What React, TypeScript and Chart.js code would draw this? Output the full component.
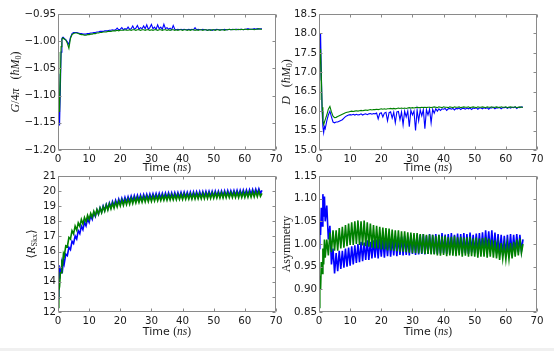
import React, { useEffect, useRef } from 'react';
import { Chart, registerables } from 'chart.js';

Chart.register(...registerables);

// ---------------- data ----------------
const TIME = [
  0, 0.25, 0.5, 0.75, 1, 1.25, 1.5, 1.75, 2,
  2.5, 3, 3.5, 4, 4.5, 5, 5.5, 6, 6.5, 7,
  7.5, 8, 8.5, 9, 9.5, 10, 10.5, 11, 11.5, 12,
  12.5, 13, 13.5, 14, 14.5, 15, 15.5, 16, 16.5, 17,
  17.5, 18, 18.5, 19, 19.5, 20, 20.5, 21, 21.5, 22,
  22.5, 23, 23.5, 24, 24.5, 25, 25.5, 26, 26.5, 27,
  27.5, 28, 28.5, 29, 29.5, 30, 30.5, 31, 31.5, 32,
  32.5, 33, 33.5, 34, 34.5, 35, 35.5, 36, 36.5, 37,
  37.5, 38, 38.5, 39, 39.5, 40, 40.5, 41, 41.5, 42,
  42.5, 43, 43.5, 44, 44.5, 45, 45.5, 46, 46.5, 47,
  47.5, 48, 48.5, 49, 49.5, 50, 50.5, 51, 51.5, 52,
  52.5, 53, 53.5, 54, 54.5, 55, 55.5, 56, 56.5, 57,
  57.5, 58, 58.5, 59, 59.5, 60, 60.5, 61, 61.5, 62,
  62.5, 63, 63.5, 64, 64.5, 65, 65.5,
];

// G / 4pi (top left)
const G_BLUE = [
  -1.06, -1.14, -1.155, -1.09, -1.02, -0.995, -0.993, -0.993, -0.995,
  -0.997, -1.001, -1.006, -0.993, -0.986, -0.984, -0.984, -0.984, -0.985, -0.986,
  -0.986, -0.987, -0.987, -0.987, -0.986, -0.986, -0.985, -0.985, -0.984, -0.984,
  -0.983, -0.983, -0.982, -0.982, -0.982, -0.981, -0.981, -0.981, -0.980, -0.980,
  -0.979, -0.980, -0.979, -0.976, -0.979, -0.978, -0.975, -0.979, -0.977, -0.978,
  -0.974, -0.978, -0.977, -0.972, -0.978, -0.976, -0.971, -0.978, -0.975, -0.977,
  -0.972, -0.977, -0.970, -0.978, -0.975, -0.969, -0.977, -0.974, -0.978, -0.970,
  -0.977, -0.974, -0.978, -0.969, -0.977, -0.975, -0.978, -0.976, -0.979, -0.971,
  -0.978, -0.979, -0.978, -0.979, -0.978, -0.979, -0.978, -0.979, -0.979, -0.978,
  -0.979, -0.978, -0.979, -0.975, -0.979, -0.978, -0.979, -0.979, -0.978, -0.979,
  -0.979, -0.980, -0.979, -0.979, -0.980, -0.979, -0.979, -0.978, -0.979, -0.979,
  -0.979, -0.979, -0.978, -0.979, -0.979, -0.978, -0.979, -0.978, -0.979, -0.978,
  -0.978, -0.979, -0.978, -0.978, -0.979, -0.978, -0.978, -0.977, -0.978, -0.978,
  -0.978, -0.977, -0.978, -0.977, -0.978, -0.977, -0.977,
];
const G_GREEN = [
  -1.02, -1.10, -1.13, -1.07, -1.01, -0.997, -0.994, -0.995, -0.996,
  -0.998, -1.004, -1.013, -0.995, -0.988, -0.986, -0.985, -0.985, -0.986, -0.987,
  -0.988, -0.988, -0.989, -0.989, -0.988, -0.988, -0.987, -0.987, -0.986, -0.986,
  -0.985, -0.985, -0.984, -0.984, -0.983, -0.983, -0.983, -0.982, -0.982, -0.982,
  -0.981, -0.981, -0.981, -0.980, -0.981, -0.980, -0.980, -0.980, -0.979, -0.980,
  -0.980, -0.979, -0.980, -0.979, -0.979, -0.980, -0.979, -0.979, -0.980, -0.979,
  -0.979, -0.980, -0.979, -0.979, -0.980, -0.979, -0.980, -0.979, -0.979, -0.980,
  -0.979, -0.979, -0.980, -0.979, -0.979, -0.980, -0.979, -0.980, -0.979, -0.979,
  -0.980, -0.979, -0.980, -0.979, -0.979, -0.980, -0.979, -0.979, -0.980, -0.979,
  -0.980, -0.979, -0.979, -0.980, -0.979, -0.980, -0.979, -0.979, -0.980, -0.979,
  -0.979, -0.980, -0.979, -0.980, -0.979, -0.979, -0.980, -0.979, -0.979, -0.980,
  -0.979, -0.979, -0.980, -0.979, -0.979, -0.978, -0.979, -0.979, -0.978, -0.979,
  -0.979, -0.978, -0.979, -0.978, -0.979, -0.978, -0.978, -0.979, -0.978, -0.978,
  -0.978, -0.979, -0.978, -0.978, -0.977, -0.978, -0.978,
];

// D (top right)
const D_BLUE = [
  16.8, 17.6, 18.0, 17.0, 16.0, 15.6, 15.45, 15.6, 15.55,
  15.75, 15.9, 16.0, 15.85, 15.72, 15.7, 15.72, 15.72, 15.74, 15.76,
  15.78, 15.82, 15.86, 15.88, 15.9, 15.91, 15.9, 15.92, 15.9, 15.92,
  15.9, 15.91, 15.93, 15.9, 15.92, 15.93, 15.91, 15.93, 15.94, 15.92,
  15.94, 15.93, 15.95, 15.8, 15.94, 15.96, 15.85, 15.95, 15.97, 15.75,
  15.96, 15.98, 15.82, 15.97, 15.7, 15.98, 15.99, 15.78, 15.98, 15.65,
  16.0, 15.85, 16.0, 15.6, 16.02, 15.9, 16.0, 15.5, 16.03, 15.75,
  16.03, 15.88, 16.04, 15.55, 16.04, 15.9, 16.05, 15.7, 16.05, 15.95,
  16.06, 16.0, 16.06, 16.02, 16.06, 16.05, 16.07, 16.02, 16.06, 16.07,
  16.05, 16.07, 16.03, 16.07, 16.06, 16.08, 16.04, 16.07, 16.07, 16.05,
  16.08, 16.06, 16.08, 16.04, 16.08, 16.07, 16.09, 16.05, 16.08, 16.08,
  16.06, 16.09, 16.07, 16.09, 16.05, 16.09, 16.08, 16.1, 16.06, 16.09,
  16.08, 16.1, 16.06, 16.09, 16.09, 16.1, 16.07, 16.1, 16.08, 16.1,
  16.09, 16.11, 16.07, 16.1, 16.09, 16.11, 16.1,
];
const D_GREEN = [
  16.3, 17.2, 17.6, 16.9, 16.1, 15.75, 15.65, 15.72, 15.78,
  15.9, 16.05, 16.12, 15.98, 15.87, 15.83, 15.84, 15.86, 15.88, 15.9,
  15.92, 15.94, 15.96, 15.97, 15.98, 15.99, 16.0, 15.99, 16.0, 16.01,
  16.0, 16.01, 16.02, 16.01, 16.02, 16.03, 16.02, 16.03, 16.04, 16.03,
  16.04, 16.04, 16.05, 16.04, 16.05, 16.06, 16.05, 16.06, 16.05, 16.06,
  16.06, 16.07, 16.06, 16.07, 16.06, 16.07, 16.08, 16.07, 16.08, 16.07,
  16.08, 16.07, 16.08, 16.09, 16.08, 16.09, 16.08, 16.09, 16.1, 16.09,
  16.09, 16.1, 16.09, 16.1, 16.09, 16.1, 16.1, 16.09, 16.1, 16.11,
  16.1, 16.09, 16.11, 16.1, 16.09, 16.11, 16.1, 16.1, 16.09, 16.11,
  16.1, 16.09, 16.11, 16.1, 16.1, 16.11, 16.09, 16.1, 16.11, 16.1,
  16.1, 16.11, 16.09, 16.1, 16.11, 16.1, 16.09, 16.11, 16.1, 16.1,
  16.11, 16.1, 16.09, 16.11, 16.1, 16.1, 16.11, 16.09, 16.1, 16.11,
  16.1, 16.09, 16.11, 16.1, 16.1, 16.11, 16.09, 16.1, 16.11, 16.1,
  16.1, 16.11, 16.09, 16.1, 16.11, 16.1, 16.1,
];

// <R_Skx> (bottom left)
const R_BLUE = [
  12.9, 15.1, 14.2, 14.8, 14.6, 15.15, 14.9, 15.45, 15.2,
  15.83, 15.73, 16.28, 16.13, 16.68, 16.53, 17.03, 16.83, 17.38, 17.18,
  17.68, 17.45, 17.93, 17.7, 18.18, 17.93, 18.38, 18.13, 18.58, 18.33,
  18.75, 18.48, 18.89, 18.61, 19.02, 18.73, 19.12, 18.83, 19.22, 18.93,
  19.31, 19.01, 19.39, 19.09, 19.47, 19.16, 19.53, 19.22, 19.59, 19.27,
  19.63, 19.31, 19.67, 19.35, 19.71, 19.38, 19.73, 19.4, 19.75, 19.42,
  19.77, 19.44, 19.79, 19.46, 19.81, 19.48, 19.83, 19.49, 19.84, 19.5,
  19.85, 19.51, 19.86, 19.53, 19.88, 19.54, 19.89, 19.55, 19.89, 19.55,
  19.9, 19.56, 19.91, 19.57, 19.92, 19.58, 19.93, 19.59, 19.93, 19.59,
  19.94, 19.6, 19.95, 19.61, 19.96, 19.62, 19.97, 19.62, 19.97, 19.63,
  19.98, 19.64, 19.99, 19.65, 19.99, 19.65, 20.0, 19.66, 20.0, 19.67,
  20.01, 19.67, 20.02, 19.68, 20.03, 19.69, 20.03, 19.7, 20.04, 19.71,
  20.05, 19.71, 20.06, 19.72, 20.07, 19.74, 20.08, 19.75, 20.09, 19.77,
  20.11, 19.8, 20.13, 19.83, 20.15, 19.85, 20.05,
];
const R_GREEN = [
  12.3, 13.4, 13.7, 14.6, 14.6, 15.3, 15.2, 15.85, 15.7,
  16.38, 16.32, 16.93, 16.82, 17.38, 17.17, 17.68, 17.42, 17.9, 17.67,
  18.13, 17.83, 18.25, 17.97, 18.4, 18.12, 18.53, 18.26, 18.67, 18.37,
  18.78, 18.47, 18.88, 18.57, 18.97, 18.67, 19.08, 18.75, 19.15, 18.82,
  19.2, 18.87, 19.27, 18.95, 19.34, 19.02, 19.4, 19.06, 19.43, 19.1,
  19.47, 19.13, 19.52, 19.17, 19.55, 19.22, 19.58, 19.25, 19.6, 19.26,
  19.62, 19.28, 19.65, 19.3, 19.66, 19.32, 19.68, 19.35, 19.69, 19.36,
  19.7, 19.37, 19.71, 19.39, 19.73, 19.4, 19.74, 19.41, 19.75, 19.42,
  19.76, 19.43, 19.77, 19.45, 19.78, 19.45, 19.8, 19.46, 19.79, 19.47,
  19.81, 19.47, 19.82, 19.48, 19.83, 19.49, 19.83, 19.5, 19.84, 19.5,
  19.85, 19.51, 19.86, 19.52, 19.87, 19.53, 19.87, 19.54, 19.88, 19.55,
  19.89, 19.55, 19.9, 19.56, 19.9, 19.57, 19.91, 19.57, 19.91, 19.58,
  19.91, 19.57, 19.92, 19.58, 19.93, 19.58, 19.93, 19.59, 19.94, 19.6,
  19.95, 19.61, 19.97, 19.63, 19.99, 19.65, 19.85,
];

// Asymmetry (bottom right)
const A_BLUE = [
  0.99, 1.05, 1.02, 1.08, 1.04, 1.11, 1.06, 1.105, 1.05,
  1.085, 1.01, 1.04, 0.955, 0.99, 0.935, 0.98, 0.94, 0.985, 0.945,
  0.985, 0.948, 0.99, 0.95, 0.992, 0.952, 0.995, 0.955, 0.997, 0.958,
  1.0, 0.96, 1.005, 0.962, 1.003, 0.965, 1.008, 0.965, 1.005, 0.968,
  1.008, 0.97, 1.01, 0.968, 1.012, 0.972, 1.01, 0.97, 1.012, 0.973,
  1.015, 0.972, 1.012, 0.975, 1.018, 0.973, 1.015, 0.976, 1.016, 0.975,
  1.018, 0.976, 1.015, 0.975, 1.02, 0.978, 1.018, 0.976, 1.02, 0.977,
  1.02, 0.978, 1.022, 0.977, 1.018, 0.978, 1.022, 0.979, 1.02, 0.978,
  1.022, 0.978, 1.02, 0.979, 1.024, 0.98, 1.021, 0.978, 1.022, 0.98,
  1.024, 0.98, 1.02, 0.978, 1.023, 0.981, 1.022, 0.979, 1.024, 0.98,
  1.022, 0.978, 1.025, 0.982, 1.02, 0.98, 1.023, 0.978, 1.024, 0.982,
  1.026, 0.983, 1.03, 0.985, 1.028, 0.984, 1.03, 0.982, 1.025, 0.98,
  1.022, 0.978, 1.02, 0.975, 1.018, 0.976, 1.02, 0.978, 1.022, 0.978,
  1.02, 0.98, 1.022, 0.982, 1.02, 0.985, 1.01,
];
const A_GREEN = [
  0.86, 0.93, 0.9, 0.96, 0.935, 0.99, 0.955, 1.01, 0.97,
  1.01, 0.975, 1.025, 0.982, 1.03, 0.985, 1.03, 0.985, 1.035, 0.99,
  1.038, 0.992, 1.042, 0.995, 1.045, 0.998, 1.048, 0.998, 1.05, 1.0,
  1.052, 0.998, 1.05, 0.997, 1.052, 0.995, 1.048, 0.994, 1.045, 0.992,
  1.042, 0.99, 1.04, 0.99, 1.038, 0.988, 1.036, 0.988, 1.035, 0.986,
  1.034, 0.986, 1.032, 0.985, 1.03, 0.984, 1.03, 0.983, 1.028, 0.983,
  1.028, 0.982, 1.026, 0.981, 1.025, 0.98, 1.024, 0.98, 1.024, 0.979,
  1.022, 0.979, 1.022, 0.978, 1.02, 0.978, 1.021, 0.977, 1.02, 0.977,
  1.018, 0.975, 1.02, 0.974, 1.017, 0.976, 1.018, 0.973, 1.015, 0.975,
  1.016, 0.974, 1.018, 0.973, 1.015, 0.975, 1.016, 0.972, 1.014, 0.974,
  1.015, 0.972, 1.016, 0.973, 1.012, 0.972, 1.014, 0.97, 1.012, 0.972,
  1.013, 0.972, 1.015, 0.97, 1.012, 0.972, 1.01, 0.97, 1.008, 0.968,
  1.0, 0.965, 1.002, 0.968, 0.998, 0.966, 1.0, 0.967, 1.002, 0.968,
  1.005, 0.972, 1.01, 0.975, 1.012, 0.98, 1.0,
];

// tick values
const X_TICKS = [0, 10, 20, 30, 40, 50, 60, 70];
const G_TICKS = [-1.2, -1.15, -1.1, -1.05, -1.0, -0.95];
const D_TICKS = [15.0, 15.5, 16.0, 16.5, 17.0, 17.5, 18.0, 18.5];
const R_TICKS = [12, 13, 14, 15, 16, 17, 18, 19, 20, 21];
const A_TICKS = [0.85, 0.9, 0.95, 1.0, 1.05, 1.1, 1.15];

const X_TITLE_TEXT = ['Time ', '(', 'ns', ')'];

// ---------------- styling ----------------
const W = 554;
const H = 351;
const Y_AXIS_W = 40;
const X_AXIS_H = 20;
const BLUE = '#0000ff';
const GREEN = '#008000';
const FRAME = '#8a8a8a';
const TEXT = '#1a1a1a';
const SANS = '"DejaVu Sans", sans-serif';
const SERIF = '"Liberation Serif", "DejaVu Serif", serif';
const TICK_FONT_SIZE = 10.3;
const TICK_LEN = 3;

type Seg = { t: string; f: string; dy?: number };

const it = (s: number) => `italic ${s}px ${SERIF}`;
const rm = (s: number) => `${s}px ${SERIF}`;

const X_TITLE: Seg[] = [
  { t: X_TITLE_TEXT[0], f: `11px ${SANS}` },
  { t: X_TITLE_TEXT[1], f: rm(11.5) },
  { t: X_TITLE_TEXT[2], f: it(11.5) },
  { t: X_TITLE_TEXT[3], f: rm(11.5) },
];

interface PanelSpec {
  id: string;
  area: { left: number; top: number; right: number; bottom: number };
  blue: number[];
  green: number[];
  yTicks: number[];
  yDec: number;
  yLabel: Seg[];
  yLabelX: number;
  xTitleY: number;
  lineW: number;
}

const PANELS: PanelSpec[] = [
  {
    id: 'g',
    area: { left: 58, top: 14, right: 276, bottom: 150 },
    blue: G_BLUE,
    green: G_GREEN,
    yTicks: G_TICKS,
    yDec: 2,
    yLabel: [
      { t: 'G', f: it(12) },
      { t: '/4', f: rm(12) },
      { t: 'π', f: it(12) },
      { t: '   (', f: rm(12) },
      { t: 'ħM', f: it(12) },
      { t: '0', f: rm(8), dy: 3 },
      { t: ')', f: rm(12) },
    ],
    yLabelX: 16,
    xTitleY: 168,
    lineW: 1.1,
  },
  {
    id: 'd',
    area: { left: 319, top: 14, right: 537, bottom: 150 },
    blue: D_BLUE,
    green: D_GREEN,
    yTicks: D_TICKS,
    yDec: 1,
    yLabel: [
      { t: 'D', f: it(12) },
      { t: '   (', f: rm(12) },
      { t: 'ħM', f: it(12) },
      { t: '0', f: rm(8), dy: 3 },
      { t: ')', f: rm(12) },
    ],
    yLabelX: 287,
    xTitleY: 168,
    lineW: 1.1,
  },
  {
    id: 'r',
    area: { left: 58, top: 176, right: 276, bottom: 312 },
    blue: R_BLUE,
    green: R_GREEN,
    yTicks: R_TICKS,
    yDec: 0,
    yLabel: [
      { t: '⟨', f: rm(12) },
      { t: 'R', f: it(12) },
      { t: 'Skx', f: rm(8), dy: 3 },
      { t: '⟩', f: rm(12) },
    ],
    yLabelX: 32,
    xTitleY: 332,
    lineW: 1.6,
  },
  {
    id: 'a',
    area: { left: 319, top: 176, right: 537, bottom: 312 },
    blue: A_BLUE,
    green: A_GREEN,
    yTicks: A_TICKS,
    yDec: 2,
    yLabel: [{ t: 'Asymmetry', f: rm(12) }],
    yLabelX: 287,
    xTitleY: 332,
    lineW: 1.6,
  },
];

function fmt(v: number, dec: number): string {
  const s = v.toFixed(dec);
  return s.startsWith('-') ? '\u2212' + s.slice(1) : s;
}

function drawRich(ctx: CanvasRenderingContext2D, segs: Seg[], cx: number, cy: number, rotate: boolean) {
  ctx.save();
  ctx.translate(cx, cy);
  if (rotate) ctx.rotate(-Math.PI / 2);
  let w = 0;
  for (const s of segs) {
    ctx.font = s.f;
    w += ctx.measureText(s.t).width;
  }
  let x = -w / 2;
  ctx.textBaseline = 'middle';
  ctx.textAlign = 'left';
  ctx.fillStyle = TEXT;
  for (const s of segs) {
    ctx.font = s.f;
    ctx.fillText(s.t, x, s.dy || 0);
    x += ctx.measureText(s.t).width;
  }
  ctx.restore();
}

function makePoints(xs: number[], ys: number[]) {
  const n = Math.min(xs.length, ys.length);
  const out: { x: number; y: number }[] = [];
  for (let i = 0; i < n; i++) out.push({ x: xs[i], y: ys[i] });
  return out;
}

function buildConfig(spec: PanelSpec): any {
  const { area } = spec;
  const yMin = spec.yTicks[0];
  const yMax = spec.yTicks[spec.yTicks.length - 1];
  const decoPlugin = {
    id: 'deco_' + spec.id,
    afterDraw(chart: any) {
      const ctx: CanvasRenderingContext2D = chart.ctx;
      const a = chart.chartArea;
      const xs = chart.scales.x;
      const ys = chart.scales.y;
      ctx.save();
      ctx.strokeStyle = FRAME;
      ctx.lineWidth = 1;
      const L = a.left + 0.5;
      const R = a.right - 0.5;
      const T = a.top + 0.5;
      const B = a.bottom - 0.5;
      ctx.beginPath();
      ctx.rect(L, T, R - L, B - T);
      for (const v of X_TICKS) {
        const px = Math.round(xs.getPixelForValue(v)) + 0.5;
        ctx.moveTo(px, B);
        ctx.lineTo(px, B - TICK_LEN);
        ctx.moveTo(px, T);
        ctx.lineTo(px, T + TICK_LEN);
      }
      for (const v of spec.yTicks) {
        const py = Math.round(ys.getPixelForValue(v)) + 0.5;
        ctx.moveTo(L, py);
        ctx.lineTo(L + TICK_LEN, py);
        ctx.moveTo(R, py);
        ctx.lineTo(R - TICK_LEN, py);
      }
      ctx.stroke();
      ctx.restore();
      drawRich(ctx, X_TITLE, (a.left + a.right) / 2, spec.xTitleY, false);
      drawRich(ctx, spec.yLabel, spec.yLabelX, (a.top + a.bottom) / 2, true);
    },
  };

  return {
    type: 'line',
    data: {
      datasets: [
        {
          label: 'green',
          data: makePoints(TIME, spec.green),
          borderColor: GREEN,
          borderWidth: spec.lineW,
          pointRadius: 0,
          fill: false,
          tension: 0,
        },
        {
          label: 'blue',
          data: makePoints(TIME, spec.blue),
          borderColor: BLUE,
          borderWidth: spec.lineW,
          pointRadius: 0,
          fill: false,
          tension: 0,
        },
      ],
    },
    options: {
      responsive: false,
      animation: false,
      devicePixelRatio: 1,
      events: [],
      layout: {
        padding: {
          left: area.left - Y_AXIS_W,
          top: area.top,
          right: W - area.right,
          bottom: H - area.bottom - X_AXIS_H,
        },
      },
      plugins: {
        legend: { display: false },
        tooltip: { enabled: false },
        title: { display: false },
      },
      scales: {
        x: {
          type: 'linear',
          min: X_TICKS[0],
          max: X_TICKS[X_TICKS.length - 1],
          grid: { display: false, drawTicks: false },
          border: { display: false },
          afterBuildTicks: (s: any) => {
            s.ticks = X_TICKS.map((v) => ({ value: v }));
          },
          afterFit: (s: any) => {
            s.height = X_AXIS_H;
          },
          ticks: {
            autoSkip: false,
            maxRotation: 0,
            padding: 3,
            color: TEXT,
            font: { family: SANS, size: TICK_FONT_SIZE },
            callback: (v: any) => fmt(Number(v), 0),
          },
        },
        y: {
          type: 'linear',
          min: yMin,
          max: yMax,
          grid: { display: false, drawTicks: false },
          border: { display: false },
          afterBuildTicks: (s: any) => {
            s.ticks = spec.yTicks.map((v) => ({ value: v }));
          },
          afterFit: (s: any) => {
            s.width = Y_AXIS_W;
          },
          ticks: {
            autoSkip: false,
            padding: 2,
            color: TEXT,
            font: { family: SANS, size: TICK_FONT_SIZE },
            callback: (v: any) => fmt(Number(v), spec.yDec),
          },
        },
      },
    },
    plugins: [decoPlugin],
  };
}

function Panel({ spec }: { spec: PanelSpec }) {
  const ref = useRef<HTMLCanvasElement>(null);
  useEffect(() => {
    if (!ref.current) return;
    const chart = new Chart(ref.current, buildConfig(spec));
    return () => chart.destroy();
  }, [spec]);
  return (
    <canvas
      ref={ref}
      width={W}
      height={H}
      style={{ position: 'absolute', left: 0, top: 0, width: W, height: H }}
    />
  );
}

export default function App() {
  return (
    <div
      style={{
        position: 'fixed',
        left: 0,
        top: 0,
        width: W,
        height: H,
        background: '#ffffff',
        overflow: 'hidden',
      }}
    >
      {PANELS.map((p) => (
        <Panel key={p.id} spec={p} />
      ))}
      <div
        style={{
          position: 'absolute',
          left: 0,
          top: 348,
          width: W,
          height: 3,
          background: '#f0f0f0',
        }}
      />
    </div>
  );
}
